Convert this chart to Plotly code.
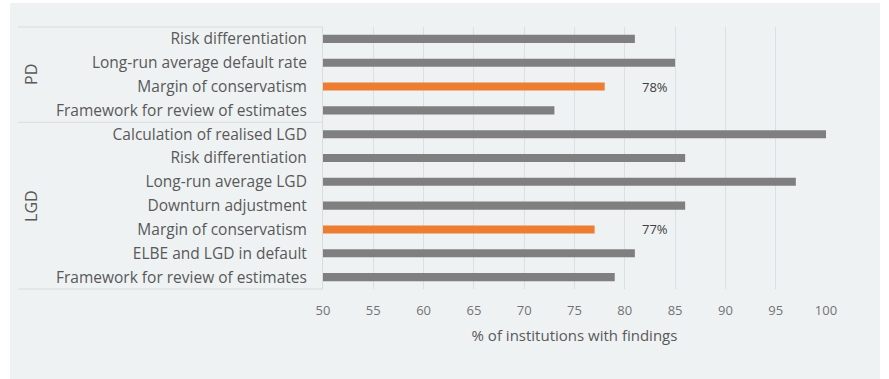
import plotly.graph_objects as go

# Share of institutions with findings, by estimate type (top to bottom)
groups = ["PD", "LGD"]
pd_categories = [
    "Risk differentiation",
    "Long-run average default rate",
    "Margin of conservatism",
    "Framework for review of estimates",
]
pd_values = [81, 85, 78, 73]
lgd_categories = [
    "Calculation of realised LGD",
    "Risk differentiation",
    "Long-run average LGD",
    "Downturn adjustment",
    "Margin of conservatism",
    "ELBE and LGD in default",
    "Framework for review of estimates",
]
lgd_values = [100, 86, 97, 86, 77, 81, 79]
highlight = "Margin of conservatism"
label_x = 83  # column where highlighted values are printed
x_ticks = [50, 55, 60, 65, 70, 75, 80, 85, 90, 95, 100]

GREY = "#7f7f7f"
ORANGE = "#ed7d31"
TEXT = "#595959"
TICK = "#737373"
LINE = "#d9dcde"
PANEL = "#eef2f3"
FONT = "Open Sans"

categories = pd_categories + lgd_categories
values = pd_values + lgd_values
n = len(categories)
positions = list(range(n))  # row 0 at the top (axis reversed)
colors = [ORANGE if c == highlight else GREY for c in categories]

fig = go.Figure()
fig.add_trace(go.Bar(
    x=values,
    y=positions,
    orientation="h",
    marker=dict(color=colors, line=dict(width=0)),
    width=0.34,
    hoverinfo="x+text",
    hovertext=categories,
    showlegend=False,
))

# Value labels for the highlighted rows
for pos, cat, val in zip(positions, categories, values):
    if cat == highlight:
        fig.add_annotation(
            x=label_x, y=pos, xref="x", yref="y",
            text=f"{val}%", showarrow=False,
            font=dict(family=FONT, size=13, color="#404040"),
        )

# Panel background
fig.add_shape(type="rect", xref="paper", yref="paper",
              x0=-0.6223, x1=1.1074, y0=-0.36, y1=1.0916,
              fillcolor=PANEL, line=dict(width=0), layer="below")

# Category label box: top, group divider and bottom rules
n_pd = len(pd_categories)
box_left = -0.6064
for yv in [1.0, 0.0]:
    fig.add_shape(type="line", xref="paper", yref="paper",
                  x0=box_left, x1=0, y0=yv, y1=yv,
                  line=dict(color=LINE, width=1), layer="below")
fig.add_shape(type="line", xref="paper", yref="y",
              x0=box_left, x1=0, y0=n_pd - 0.5, y1=n_pd - 0.5,
              line=dict(color=LINE, width=1), layer="below")

# Group labels, rotated
group_spans = [(0, n_pd - 1), (n_pd, n - 1)]
for g, (a, b) in zip(groups, group_spans):
    fig.add_annotation(
        x=-0.584, y=(a + b) / 2, xref="paper", yref="y",
        text=g, textangle=-90, showarrow=False, xshift=-12,
        font=dict(family=FONT, size=16, color=TEXT),
    )

fig.update_layout(
    width=889, height=379,
    margin=dict(l=323, r=63, t=27, b=90),
    paper_bgcolor="white",
    plot_bgcolor="rgba(0,0,0,0)",
    bargap=0.66,
    font=dict(family=FONT, color=TEXT),
)
fig.update_xaxes(
    range=[50, 100],
    tickvals=x_ticks,
    ticktext=[str(t) for t in x_ticks],
    showgrid=True, gridcolor="#dde0e2", gridwidth=1,
    zeroline=False, showline=False,
    ticks="", ticklabelstandoff=12,
    tickfont=dict(family=FONT, size=13, color=TICK),
    title=dict(text="% of institutions with findings",
               font=dict(family=FONT, size=15, color=TEXT), standoff=12),
    fixedrange=True,
)
fig.update_yaxes(
    range=[n - 0.5, -0.5],
    tickvals=positions,
    ticktext=categories,
    showgrid=False, zeroline=False,
    showline=True, linecolor=LINE, linewidth=1,
    ticks="", ticklabelstandoff=12,
    tickfont=dict(family=FONT, size=15.5, color=TEXT),
    fixedrange=True,
)

fig.write_html("out.html")
